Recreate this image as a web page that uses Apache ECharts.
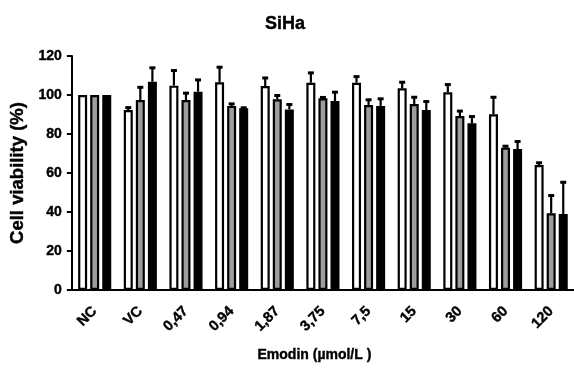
<!DOCTYPE html>
<html>
<head>
<meta charset="utf-8">
<script src="https://cdn.jsdelivr.net/npm/echarts@6/dist/echarts.min.js"></script>
<style>html,body{margin:0;padding:0;background:#fff;}#c{width:574px;height:369px;}</style>
</head>
<body>
<div id="c"></div>
<script>
const categories = ['NC','VC','0,47','0,94','1,87','3,75','7,5','15','30','60','120'];
const whiteValues = [100, 92.3, 104.8, 106.5, 104.6, 106.3, 106.3, 103.4, 101.4, 90.1, 64.1];
const whiteErrors = [0, 1.5, 8.0, 8.0, 4.4, 5.3, 3.4, 3.4, 4.2, 9.0, 1.4];
const greyValues = [100, 97.4, 97.4, 94.4, 97.8, 98.3, 94.9, 95.4, 89.2, 73.0, 39.3];
const greyErrors = [0, 6.8, 3.8, 1.3, 2.2, 0.7, 2.9, 3.7, 2.8, 1.0, 9.4];
const blackValues = [100, 106.8, 101.7, 93.2, 92.6, 96.9, 94.4, 92.3, 85.5, 72.3, 39.0];
const blackErrors = [0, 7.4, 6.3, 0.5, 2.8, 4.8, 3.9, 4.6, 3.7, 4.1, 16.5];
const yTicks = [0, 20, 40, 60, 80, 100, 120];

const BAR_W = 9;
const BAR_GAP = 0.34;
const SPACING = BAR_W * (1 + BAR_GAP);
const FONT = 'Liberation Sans';
const TXT = {fontFamily: FONT, fontWeight: 'bold', color: '#000', textBorderColor: '#000', textBorderWidth: 0.4};

const groups = [
  {vals: whiteValues, errs: whiteErrors, color: '#ffffff'},
  {vals: greyValues, errs: greyErrors, color: '#9d9d9d'},
  {vals: blackValues, errs: blackErrors, color: '#000000'}
];

const errData = [];
groups.forEach((g, gi) => {
  g.vals.forEach((v, i) => { if (g.errs[i] > 0) errData.push([i, gi, v, g.errs[i]]); });
});

const barSeries = groups.map(g => ({
  type: 'bar',
  data: g.vals,
  barWidth: BAR_W,
  barGap: (BAR_GAP * 100) + '%',
  itemStyle: {color: g.color, borderColor: '#000', borderWidth: 2.2},
  z: 2
}));

const errSeries = {
  type: 'custom',
  data: errData,
  z: 3,
  renderItem: function (params, api) {
    const ci = api.value(0), gi = api.value(1), v = api.value(2), e = api.value(3);
    const base = api.coord([ci, v]);
    const top = api.coord([ci, v + e]);
    const x = base[0] + (gi - 1) * SPACING;
    return {
      type: 'group',
      children: [
        {type: 'line', shape: {x1: x, y1: base[1], x2: x, y2: top[1]}, style: {stroke: '#000', lineWidth: 2.2}},
        {type: 'rect', shape: {x: x - 3, y: top[1] - 1, width: 6, height: 3}, style: {fill: '#000'}}
      ]
    };
  }
};

const chart = echarts.init(document.getElementById('c'), null, {renderer: 'canvas'});
chart.setOption({
  animation: false,
  backgroundColor: '#fff',
  title: {
    text: 'SiHa', left: 280, top: 10, textAlign: 'center',
    textStyle: Object.assign({}, TXT, {fontSize: 18})
  },
  grid: {left: 71, right: -4, top: 56, bottom: 79},
  xAxis: {
    type: 'category',
    data: categories,
    name: 'Emodin (\u00b5mol/L )',
    nameLocation: 'middle',
    nameGap: 58,
    nameTextStyle: Object.assign({}, TXT, {fontSize: 14, padding: [0, 17, 0, 0]}),
    axisLine: {lineStyle: {color: '#000', width: 2}},
    axisTick: {alignWithLabel: true, length: 5, lineStyle: {color: '#000', width: 2}},
    axisLabel: Object.assign({}, TXT, {rotate: 45, fontSize: 14.5, margin: 19, interval: 0}),
    splitLine: {show: false}
  },
  yAxis: {
    type: 'value',
    min: yTicks[0], max: yTicks[yTicks.length - 1], interval: 20,
    name: 'Cell viability (%)',
    nameLocation: 'middle',
    nameGap: 36,
    nameTextStyle: Object.assign({}, TXT, {fontSize: 18.5}),
    axisLine: {show: true, lineStyle: {color: '#000', width: 2}},
    axisTick: {show: true, length: 5, lineStyle: {color: '#000', width: 2}},
    axisLabel: Object.assign({}, TXT, {fontSize: 14, margin: 10}),
    splitLine: {show: false}
  },
  series: barSeries.concat([errSeries])
});
</script>
</body>
</html>
